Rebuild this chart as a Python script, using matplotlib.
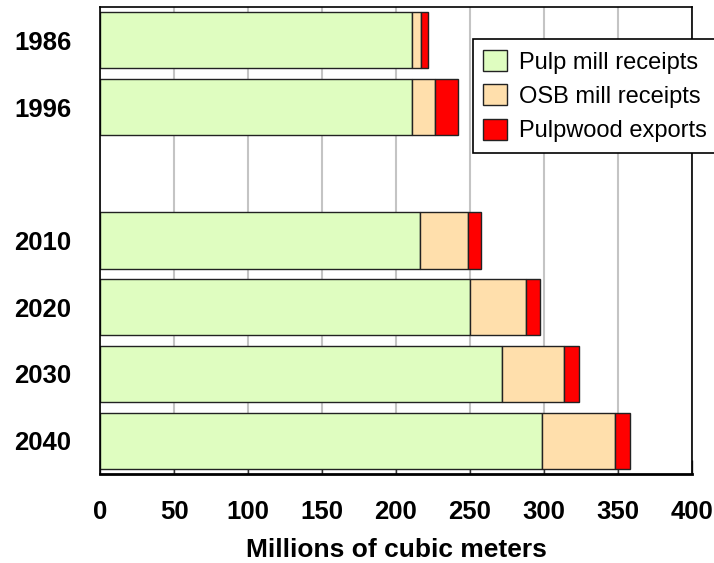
import matplotlib.pyplot as plt

plt.rcParams['font.family'] = ['Liberation Sans', 'DejaVu Sans']

# данные по годам (пустой слот между 1996 и 2010)
years = ['1986', '1996', '2010', '2020', '2030', '2040']
slots = [0, 1, 3, 4, 5, 6]
pulp_mill = [211, 211, 216, 250, 271.5, 299]
osb_mill = [6, 15.5, 32.5, 38, 42, 49]
pulp_exports = [4.5, 15.5, 9, 9.5, 10, 10]

x_ticks = [0, 50, 100, 150, 200, 250, 300, 350, 400]

fig = plt.figure(figsize=(7.14, 5.63), dpi=100)
ax = fig.add_axes([0.1406, 0.158, 0.828, 0.8296])

h = 0.84
edge = '#222222'
left2 = [a + b for a, b in zip(pulp_mill, osb_mill)]
ax.barh(slots, pulp_mill, height=h, color='#DFFDC0', edgecolor=edge, linewidth=1,
        label='Pulp mill receipts', zorder=2)
ax.barh(slots, osb_mill, left=pulp_mill, height=h, color='#FFDFAC', edgecolor=edge,
        linewidth=1, label='OSB mill receipts', zorder=2)
ax.barh(slots, pulp_exports, left=left2, height=h, color='#FF0000', edgecolor=edge,
        linewidth=1, label='Pulpwood exports', zorder=2)

ax.set_xlim(0, 400)
ax.set_ylim(6.5, -0.5)
ax.set_xticks(x_ticks)
ax.set_xticklabels([str(t) for t in x_ticks], fontsize=18.5, fontweight='bold')
ax.set_yticks(slots)
ax.set_yticklabels(years, fontsize=18.5, fontweight='bold')
ax.tick_params(axis='y', length=0, pad=21)
ax.tick_params(axis='x', direction='in', length=10, width=1, pad=19, color='#333333')
ax.xaxis.grid(True, color='#c4c4c4', linewidth=1.5, zorder=0)
ax.set_axisbelow(True)
for s in ['top', 'right', 'left']:
    ax.spines[s].set_linewidth(1.2)
ax.spines['bottom'].set_linewidth(2)
ax.set_xlabel('Millions of cubic meters', fontsize=19, fontweight='bold', labelpad=10)

leg = fig.legend(loc='upper left', bbox_to_anchor=(0.662, 0.930), fontsize=17,
                 frameon=True, fancybox=False, edgecolor='black', framealpha=1,
                 handlelength=1.0, handleheight=1.0, handletextpad=0.5,
                 labelspacing=0.45, borderpad=0.45, borderaxespad=0)
leg.get_frame().set_linewidth(1.2)

fig.savefig('out.png', dpi=100)
plt.close(fig)
